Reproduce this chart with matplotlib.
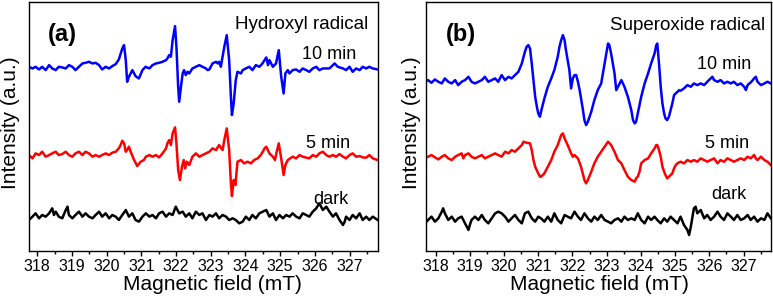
import numpy as np
import matplotlib
matplotlib.use("Agg")
import matplotlib.pyplot as plt
from matplotlib.ticker import MultipleLocator

plt.rcParams['font.family'] = ['Liberation Sans', 'DejaVu Sans']

# ---- (a) hydroxyl radical, field (mT) and intensity (a.u.) ----
a10_field = [317.76, 317.86, 317.95, 318.05, 318.14, 318.24, 318.34, 318.43, 318.53, 318.62,
             318.72, 318.82, 318.91, 319.01, 319.10, 319.20, 319.30, 319.39, 319.49, 319.59,
             319.68, 319.78, 319.87, 319.97, 320.07, 320.16, 320.26, 320.35, 320.45, 320.50,
             320.55, 320.59, 320.64, 320.74, 320.83, 320.93, 321.03, 321.12,
             321.23, 321.32, 321.42, 321.51, 321.61, 321.71, 321.75, 321.80, 321.85, 321.90,
             321.97, 322.01, 322.06, 322.09, 322.14, 322.19, 322.23, 322.28, 322.33, 322.38,
             322.47, 322.57, 322.67, 322.76, 322.86, 322.91, 322.96, 323.05, 323.15, 323.20,
             323.24, 323.29, 323.39, 323.46, 323.53, 323.58, 323.61, 323.66, 323.72, 323.77,
             323.87, 323.92, 324.01, 324.11, 324.20, 324.30, 324.40, 324.49,
             324.55, 324.60, 324.65, 324.69, 324.79, 324.88, 324.96, 325.03, 325.10, 325.15,
             325.22, 325.27, 325.36, 325.46, 325.56, 325.65, 325.75, 325.84, 325.94, 326.04,
             326.13, 326.23, 326.42, 326.57, 326.66, 326.81, 326.90, 327.00, 327.09, 327.19,
             327.29, 327.38, 327.48, 327.57, 327.67, 327.81]
a10_int = [0, -5, 0, -8, 0, -10, 5, -5, -10, 0,
           -2, -5, 5, 0, -10, 0, 10, 12, 15, 10,
           12, 5, -8, 0, -5, 2, 8, 22, 55, 65,
           20, -45, -30, -10, -28, -35, -10, 0,
           -5, 5, 10, 12, 15, 20, 25, 35, 30, 80,
           122, 60, -60, -105, -60, -20, -10, -25, -15, -20,
           -5, 0, 5, 0, -5, -10, -8, 10, 15, 10,
           15, 0, 60, 95, 20, -90, -145, -110, -40, -15,
           -20, -10, -5, 0, -10, 5, 0, 10,
           20, 28, 5, 20, 0, 10, 50, -30, -80, -20,
           -10, -20, -10, -8, -15, -5, -10, -15, -5, 0,
           -10, -5, -5, 10, 0, -5, -10, 0, -15, -5,
           -10, 0, -5, 0, -5, -8]

a5_field = [317.76, 317.86, 317.95, 318.05, 318.14, 318.24, 318.34, 318.43, 318.53, 318.62,
            318.72, 318.82, 318.91, 319.01, 319.10, 319.20, 319.30, 319.39, 319.49, 319.59,
            319.68, 319.78, 319.87, 319.97, 320.07, 320.16, 320.26, 320.35, 320.40, 320.45,
            320.50, 320.55, 320.59, 320.64, 320.69, 320.79, 320.88, 320.98, 321.07,
            321.13, 321.23, 321.32, 321.42, 321.51, 321.61, 321.71, 321.75, 321.80, 321.85,
            321.90, 321.97, 322.01, 322.06, 322.11, 322.17, 322.22, 322.26, 322.31, 322.38,
            322.47, 322.57, 322.67, 322.76, 322.86, 322.96, 323.05, 323.15, 323.24, 323.34,
            323.39, 323.46, 323.53, 323.58, 323.61, 323.66, 323.71, 323.77, 323.87, 323.96,
            324.06, 324.16, 324.25, 324.35, 324.44,
            324.50, 324.55, 324.60, 324.69, 324.79, 324.85, 324.90, 324.96, 325.03, 325.10,
            325.15, 325.22, 325.36, 325.46, 325.56, 325.65, 325.84, 325.94, 326.04, 326.13,
            326.23, 326.33, 326.42, 326.52, 326.61, 326.71, 326.81, 326.90, 327.00, 327.09,
            327.19, 327.29, 327.38, 327.48, 327.57, 327.67, 327.81]
a5_int = [0, -10, 5, 0, 10, -5, 0, 5, 10, 0,
          3, 10, 0, -5, 5, 10, 0, 10, 5, -5,
          0, -5, 0, 5, 0, 7, 10, 20, 30, 43,
          35, 10, 15, 25, 10, -15, -33, -20, -15,
          -5, 0, -5, 0, -7, 5, 20, 35, 45, 30,
          65, 83, 35, -45, -75, -35, -15, -40, -20, -30,
          -5, 5, -5, 0, 5, 10, 20, 15, 30, 15,
          45, 80, 15, -85, -123, -75, -90, -20, -15, -25,
          -20, -25, -15, -10, 0,
          10, 20, 25, 5, -5, -15, 10, 35, -10, -60,
          -30, -15, -5, -10, 0, -5, -10, 0, -5, 5,
          10, 0, -5, 0, -5, 3, -5, -10, 0, 5,
          -5, -3, -7, -8, 0, -10, -15]

adark_field = [317.76, 317.86, 317.95, 318.05, 318.14, 318.24, 318.34, 318.43, 318.48, 318.53,
               318.62, 318.72, 318.82, 318.87, 318.91, 319.01, 319.10, 319.20, 319.30, 319.39,
               319.49, 319.59, 319.68, 319.78, 319.87, 319.97, 320.07, 320.16, 320.26, 320.35,
               320.45, 320.55, 320.64, 320.74, 320.83, 320.93, 321.03,
               321.13, 321.23, 321.32, 321.42, 321.51, 321.61, 321.71, 321.80, 321.90, 321.99,
               322.04, 322.09, 322.19, 322.28, 322.38, 322.47, 322.57, 322.67, 322.76, 322.86,
               322.96, 323.05, 323.15, 323.24, 323.34, 323.44, 323.53, 323.63, 323.72, 323.82,
               323.92, 324.01, 324.11, 324.20, 324.30, 324.40,
               324.50, 324.60, 324.69, 324.79, 324.88, 324.98, 325.08, 325.17, 325.27, 325.36,
               325.46, 325.56, 325.65, 325.75, 325.84, 325.94, 326.04, 326.13, 326.18, 326.23,
               326.33, 326.42, 326.52, 326.61, 326.71, 326.81, 326.86, 326.90, 327.00, 327.09,
               327.19, 327.29, 327.38, 327.48, 327.57, 327.67, 327.81]
adark_int = [-10, 0, 10, -5, 5, 0, 10, 25, 5, 15,
             0, -5, 20, 30, 5, -5, 5, 15, 0, 10,
             0, -5, 5, 15, 0, 10, -5, 5, 0, -10,
             5, 20, 0, 10, -10, -15, 0,
             10, 0, 5, -5, 10, 15, 0, 10, 5, 30,
             20, 10, 15, 0, 10, -5, 15, 5, 10, -10,
             5, 0, 10, -5, 5, 0, -10, -5, -10, -20,
             -15, 0, -10, 5, -5, 10,
             15, 20, 0, 10, -10, 5, -5, 5, 0, 10,
             0, -5, 10, 5, 0, 15, 25, 40, 30, 20,
             30, 15, 0, 10, -10, -25, -15, 0, -10, 5,
             -5, 10, -10, 0, -10, 0, -10]

# ---- (b) superoxide radical ----
b10_field = [317.69, 317.78, 317.88, 317.98, 318.08, 318.18, 318.27, 318.37, 318.47, 318.57,
             318.66, 318.76, 318.86, 318.96, 319.05, 319.15, 319.25, 319.35, 319.44, 319.54,
             319.64, 319.74, 319.83, 319.93, 320.03, 320.13, 320.22, 320.32, 320.42, 320.52,
             320.61, 320.66, 320.71, 320.76, 320.81, 320.86, 320.91, 320.96, 321.00, 321.05,
             321.08, 321.18, 321.28, 321.38, 321.47, 321.57, 321.62, 321.67, 321.72, 321.77,
             321.81, 321.86, 321.91, 321.96, 322.01, 322.06, 322.11, 322.16, 322.21, 322.25,
             322.30, 322.35, 322.40, 322.45, 322.55, 322.64, 322.74, 322.84, 322.94, 322.99,
             323.04, 323.08, 323.13, 323.18, 323.23, 323.28, 323.33, 323.43, 323.52, 323.62,
             323.72, 323.77, 323.82, 323.86, 323.91, 324.01, 324.11, 324.21, 324.30, 324.40,
             324.45,
             324.48, 324.53, 324.58, 324.63, 324.68, 324.72, 324.77, 324.82, 324.87, 324.92,
             324.97, 325.02, 325.07, 325.12, 325.16, 325.26, 325.36, 325.46, 325.55, 325.65,
             325.75, 325.85, 325.94, 326.04, 326.09, 326.14, 326.24, 326.33, 326.43, 326.53,
             326.63, 326.72, 326.82, 326.92, 327.02, 327.07, 327.12, 327.23, 327.31, 327.36,
             327.41, 327.51, 327.61, 327.70, 327.80]
b10_int = [0, 5, -3, 7, 0, -5, 10, 0, -5, 5,
           -10, 0, 5, 15, 0, -5, 0, 5, 15, 0,
           5, 10, 0, 20, 5, 15, 10, 20, 30, 55,
           90, 105, 110, 100, 55, 5, -45, -75, -95, -105,
           -90, -50, -15, 10, 35, 75, 105, 125, 140, 125,
           95, 65, 35, -20, 10, 20, 20, 0, -25, -50,
           -80, -115, -130, -120, -90, -55, -25, -5, 55, 85,
           115, 110, 85, 55, 25, -25, -15, 5, -15, -45,
           -85, -115, -125, -120, -95, -45, -5, 25, 55, 85,
           110,
           115, 55, -15, -65, -95, -110, -115, -105, -85, -65,
           -40, -35, -30, -25, -27, -20, -10, -15, -5, -10,
           -5, -10, 0, 10, 15, 5, 0, 5, -5, 0,
           -5, 0, -10, -5, -15, -25, -10, 0, 10, 15,
           0, -10, -5, 0, -5]

b5_field = [317.69, 317.78, 317.88, 317.98, 318.08, 318.18, 318.27, 318.37, 318.47, 318.57,
            318.66, 318.76, 318.81, 318.86, 318.96, 319.05, 319.15, 319.25, 319.35, 319.44,
            319.54, 319.64, 319.74, 319.83, 319.93, 320.03, 320.13, 320.22, 320.32, 320.42,
            320.52, 320.57, 320.66, 320.76, 320.81, 320.86, 320.91, 321.00, 321.05,
            321.08, 321.18, 321.28, 321.38, 321.47, 321.57, 321.62, 321.67, 321.72, 321.77,
            321.86, 321.96, 322.01, 322.06, 322.16, 322.25, 322.30, 322.35, 322.40, 322.45,
            322.55, 322.64, 322.74, 322.84, 322.94, 323.04, 323.13, 323.23, 323.33, 323.43,
            323.52, 323.62, 323.72, 323.82, 323.86, 323.91, 323.96, 324.01, 324.11, 324.21,
            324.30, 324.40, 324.45,
            324.48, 324.53, 324.58, 324.63, 324.68, 324.72, 324.77, 324.82, 324.87, 324.92,
            324.97, 325.02, 325.07, 325.16, 325.26, 325.36, 325.46, 325.55, 325.65, 325.75,
            325.85, 325.94, 326.04, 326.14, 326.24, 326.33, 326.43, 326.53, 326.63, 326.72,
            326.82, 326.92, 327.02, 327.12, 327.21, 327.31, 327.36, 327.41, 327.51, 327.61,
            327.70, 327.80]
b5_int = [-3, 2, 7, 0, -6, 2, 7, -3, -8, 2,
          7, 12, -3, 7, 12, 2, -3, 2, 7, -3,
          2, 7, 12, 7, 2, 17, 12, 22, 17, 27,
          37, 47, 44, 42, 22, -8, -28, -48, -58,
          -58, -48, -28, -8, 17, 37, 52, 67, 72, 57,
          37, 12, 2, 7, -3, -28, -48, -68, -78, -68,
          -43, -18, 2, 17, 32, 47, 37, 17, -8, -18,
          -38, -58, -68, -73, -63, -58, -43, -18, -8, -3,
          12, 27, 37,
          37, 22, 2, -28, -43, -53, -63, -58, -53, -48,
          -33, -23, -18, -13, -18, -8, -13, -8, -13, -3,
          -8, -13, -8, -3, -18, -8, -13, -3, -8, -13,
          -8, -3, -8, 2, -3, 7, -3, -8, 2, -8,
          -13, -23]

bdark_field = [317.69, 317.78, 317.88, 317.98, 318.08, 318.18, 318.22, 318.27, 318.37, 318.47,
               318.57, 318.66, 318.76, 318.86, 318.96, 319.00, 319.05, 319.15, 319.25, 319.35,
               319.44, 319.54, 319.64, 319.74, 319.83, 319.93, 320.03, 320.13, 320.22, 320.32,
               320.42, 320.52, 320.61, 320.71, 320.81, 320.91, 321.00,
               321.08, 321.18, 321.28, 321.38, 321.47, 321.57, 321.67, 321.77, 321.86, 321.96,
               322.06, 322.16, 322.25, 322.35, 322.45, 322.55, 322.64, 322.74, 322.84, 322.94,
               323.04, 323.13, 323.23, 323.33, 323.43, 323.52, 323.62, 323.72, 323.82, 323.91,
               324.01, 324.11, 324.21, 324.30, 324.40,
               324.48, 324.58, 324.68, 324.77, 324.87, 324.97, 325.07, 325.16, 325.26, 325.36,
               325.41, 325.46, 325.55, 325.60, 325.65, 325.75, 325.85, 325.94, 326.04, 326.14,
               326.24, 326.33, 326.43, 326.53, 326.63, 326.72, 326.82, 326.92, 327.02, 327.12,
               327.21, 327.31, 327.41, 327.51, 327.61, 327.70, 327.80]
bdark_int = [-10, 0, 10, -5, 5, 25, 35, 20, 0, 10,
             -5, 5, 10, -10, -30, -15, 0, 10, 0, 15,
             0, -10, 5, 20, 25, 20, 10, -5, 5, 15,
             0, -10, 20, 25, 5, -5, 10,
             5, -5, 10, -5, 20, 0, -10, 15, 10, 5,
             25, 10, 0, 20, 5, -5, 10, 0, 15, 0,
             -5, -10, 0, 5, -5, 10, 0, 5, 0, 20,
             0, -10, 10, 0, 10,
             0, -10, 5, -5, 10, 0, -10, 10, -15, -30,
             -45, -20, 35, 40, 20, 30, 5, 15, 0, 10,
             25, 10, 0, 20, 10, 0, 15, 0, 5, 15,
             0, 10, -5, 5, 0, 20, 5]

labels = ['10 min', '5 min', 'dark']
colors = ['#0000ff', '#ff0000', '#000000']


def draw_panel(ax, traces, offsets, xlim, letter, title, title_pos, label_pos, letter_pos):
    for (field, inten), off, c in zip(traces, offsets, colors):
        ax.plot(field, np.array(inten) + off, color=c, lw=1.8)
    ax.set_xlim(*xlim)
    ax.set_ylim(0, 749)
    ax.set_yticks([])
    ax.xaxis.set_major_locator(MultipleLocator(1))
    ax.xaxis.set_minor_locator(MultipleLocator(0.5))
    ax.tick_params(axis='x', which='major', direction='out', length=3.5, width=1,
                   labelsize=11.5, pad=2.5, top=False)
    ax.tick_params(axis='x', which='minor', direction='out', length=2, width=1, top=False)
    for s in ax.spines.values():
        s.set_linewidth(1.0)
    ax.text(letter_pos[0], letter_pos[1], letter, transform=ax.transAxes,
            fontsize=17, fontweight='bold', va='baseline', ha='left')
    ax.text(title_pos[0], title_pos[1], title, transform=ax.transAxes,
            fontsize=13.5, va='baseline', ha='right')
    for lab, (x, y) in zip(labels, label_pos):
        ax.text(x, y, lab, transform=ax.transAxes, fontsize=13, va='baseline', ha='center')
    ax.set_xlabel('Magnetic field (mT)', fontsize=15)
    ax.set_ylabel('Intensity (a.u.)', fontsize=15)


fig = plt.figure(figsize=(7.73, 3.02), dpi=100)
ax1 = fig.add_axes([0.0375, 0.169, 0.4515, 0.826])
ax2 = fig.add_axes([0.5507, 0.169, 0.4461, 0.826])

draw_panel(ax1, [(a10_field, a10_int), (a5_field, a5_int), (adark_field, adark_int)],
           [553, 288, 103], (317.76, 327.82), '(a)', 'Hydroxyl radical',
           (0.971, 0.889), [(0.860, 0.768), (0.857, 0.414), (0.865, 0.188)], (0.054, 0.843))
draw_panel(ax2, [(b10_field, b10_int), (b5_field, b5_int), (bdark_field, bdark_int)],
           [508, 281, 93], (317.71, 327.79), '(b)', 'Superoxide radical',
           (0.984, 0.886), [(0.866, 0.728), (0.874, 0.412), (0.880, 0.207)], (0.059, 0.843))

ax1.yaxis.set_label_coords(-0.027, 0.513)
ax2.yaxis.set_label_coords(-0.013, 0.515)
ax1.xaxis.set_label_coords(0.526, -0.096)
ax2.xaxis.set_label_coords(0.505, -0.096)

fig.savefig('out.png', dpi=100)
